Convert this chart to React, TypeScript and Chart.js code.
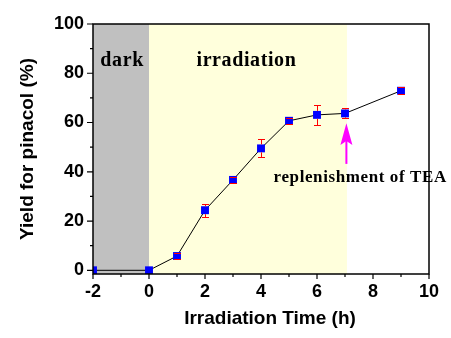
import React, { useEffect, useRef } from "react";
import { Chart, registerables } from "chart.js";

Chart.register(...registerables);

const TIMES = [-2, 0, 1, 2, 3, 4, 5, 6, 7, 9];
const YIELDS = [0, 0, 5.8, 24.4, 36.7, 49.5, 60.7, 63.1, 63.7, 72.9];
const ERRORS = [0, 0, 1.3, 2.6, 1.3, 3.7, 1.3, 4.0, 2.0, 1.4];

const X_MAJOR = [-2, 0, 2, 4, 6, 8, 10];
const X_MINOR = [-1, 1, 3, 5, 7, 9];
const Y_MAJOR = [0, 20, 40, 60, 80, 100];
const Y_MINOR = [10, 30, 50, 70, 90];

const DARK_RANGE = [-2, 0];
const LIGHT_RANGE = [0, 7.07];

const LABEL_DARK = { text: "dark", x: -0.96, y: 83 };
const LABEL_LIGHT = { text: "irradiation", x: 3.48, y: 83 };
const LABEL_TEA = { text: "replenishment of TEA", x: 4.45, y: 36 };
const ARROW = { x: 7.05, tip: 59.7, base: 50.9, notch: 52.5, end: 43.2 };

const X_TITLE = "Irradiation Time (h)";
const Y_TITLE = "Yield for pinacol (%)";

const decorPlugin = {
  id: "decor",
  beforeDatasetsDraw(chart: any) {
    const { ctx, chartArea: a, scales } = chart;
    const xs = scales.x;
    ctx.save();
    ctx.fillStyle = "#c0c0c0";
    const d0 = xs.getPixelForValue(DARK_RANGE[0]);
    const d1 = xs.getPixelForValue(DARK_RANGE[1]);
    ctx.fillRect(d0, a.top, d1 - d0, a.bottom - a.top);
    ctx.fillStyle = "#ffffdc";
    const l0 = xs.getPixelForValue(LIGHT_RANGE[0]);
    const l1 = xs.getPixelForValue(LIGHT_RANGE[1]);
    ctx.fillRect(l0, a.top, l1 - l0, a.bottom - a.top);
    ctx.restore();
  },
  afterDatasetsDraw(chart: any) {
    const { ctx, chartArea: a, scales } = chart;
    const xs = scales.x;
    const ys = scales.y;
    ctx.save();
    // error bars
    ctx.strokeStyle = "#ff0000";
    ctx.lineWidth = 1;
    const half = 4;
    TIMES.forEach((t, i) => {
      const e = ERRORS[i];
      if (!e) return;
      const px = Math.round(xs.getPixelForValue(t)) + 0.5;
      const pc = ys.getPixelForValue(YIELDS[i]);
      const pt = Math.round(ys.getPixelForValue(YIELDS[i] + e)) + 0.5;
      const pb = Math.round(ys.getPixelForValue(YIELDS[i] - e)) + 0.5;
      ctx.beginPath();
      if (pt < pc - half) {
        ctx.moveTo(px, pt);
        ctx.lineTo(px, pc - half);
      }
      if (pb > pc + half) {
        ctx.moveTo(px, pc + half);
        ctx.lineTo(px, pb);
      }
      ctx.moveTo(px - 3.5, pt);
      ctx.lineTo(px + 3.5, pt);
      ctx.moveTo(px - 3.5, pb);
      ctx.lineTo(px + 3.5, pb);
      ctx.stroke();
    });

    // texts
    ctx.fillStyle = "#000";
    ctx.textBaseline = "alphabetic";
    ctx.font = "bold 20px 'Liberation Serif'";
    (ctx as any).letterSpacing = "0.6px";
    ctx.textAlign = "center";
    ctx.fillText(LABEL_DARK.text, xs.getPixelForValue(LABEL_DARK.x), ys.getPixelForValue(LABEL_DARK.y));
    ctx.fillText(LABEL_LIGHT.text, xs.getPixelForValue(LABEL_LIGHT.x), ys.getPixelForValue(LABEL_LIGHT.y));
    ctx.font = "bold 17px 'Liberation Serif'";
    (ctx as any).letterSpacing = "0.6px";
    ctx.textAlign = "left";
    ctx.fillText(LABEL_TEA.text, xs.getPixelForValue(LABEL_TEA.x), ys.getPixelForValue(LABEL_TEA.y));
    (ctx as any).letterSpacing = "0px";

    // arrow
    const ax = xs.getPixelForValue(ARROW.x);
    ctx.fillStyle = "#ff00ff";
    ctx.strokeStyle = "#ff00ff";
    ctx.lineWidth = 2;
    ctx.beginPath();
    ctx.moveTo(ax, ys.getPixelForValue(ARROW.end));
    ctx.lineTo(ax, ys.getPixelForValue(ARROW.notch));
    ctx.stroke();
    ctx.beginPath();
    ctx.moveTo(ax, ys.getPixelForValue(ARROW.tip));
    ctx.lineTo(ax - 6, ys.getPixelForValue(ARROW.base));
    ctx.lineTo(ax, ys.getPixelForValue(ARROW.notch));
    ctx.lineTo(ax + 6, ys.getPixelForValue(ARROW.base));
    ctx.closePath();
    ctx.fill();

    // frame
    ctx.strokeStyle = "#000";
    ctx.lineWidth = 1.5;
    ctx.strokeRect(a.left, a.top, a.right - a.left, a.bottom - a.top);
    // ticks
    ctx.lineWidth = 1.2;
    ctx.beginPath();
    X_MAJOR.forEach((v) => {
      const p = xs.getPixelForValue(v);
      ctx.moveTo(p, a.bottom);
      ctx.lineTo(p, a.bottom + 5);
    });
    X_MINOR.forEach((v) => {
      const p = xs.getPixelForValue(v);
      ctx.moveTo(p, a.bottom);
      ctx.lineTo(p, a.bottom + 3);
    });
    Y_MAJOR.forEach((v) => {
      const p = ys.getPixelForValue(v);
      ctx.moveTo(a.left, p);
      ctx.lineTo(a.left - 6, p);
    });
    Y_MINOR.forEach((v) => {
      const p = ys.getPixelForValue(v);
      ctx.moveTo(a.left, p);
      ctx.lineTo(a.left - 3, p);
    });
    ctx.stroke();

    // axis titles
    ctx.fillStyle = "#000";
    ctx.font = "bold 19px 'Liberation Sans'";
    ctx.textAlign = "center";
    ctx.textBaseline = "alphabetic";
    ctx.fillText(X_TITLE, 270, 324);
    ctx.save();
    ctx.translate(32.5, 149);
    ctx.rotate(-Math.PI / 2);
    ctx.fillText(Y_TITLE, 0, 0);
    ctx.restore();
    ctx.restore();
  },
};

export default function App() {
  const ref = useRef<HTMLCanvasElement | null>(null);
  useEffect(() => {
    if (!ref.current) return;
    const chart = new Chart(ref.current, {
      type: "line",
      data: {
        datasets: [
          {
            data: TIMES.map((t, i) => ({ x: t, y: YIELDS[i] })),
            borderColor: "#000",
            borderWidth: 1,
            tension: 0,
            pointStyle: "rect",
            pointRadius: 5.6,
            pointBackgroundColor: "#0000ff",
            pointBorderWidth: 0,
            pointBorderColor: "#0000ff",
            clip: 0,
          } as any,
        ],
      },
      options: {
        responsive: false,
        animation: false,
        layout: { padding: { top: 24, right: 22, left: 0, bottom: 0 } },
        plugins: { legend: { display: false }, tooltip: { enabled: false } },
        scales: {
          x: {
            type: "linear",
            min: -2,
            max: 10,
            grid: { display: false, drawTicks: false },
            border: { display: false },
            afterBuildTicks: (s: any) => {
              s.ticks = X_MAJOR.map((v) => ({ value: v }));
            },
            afterFit: (s: any) => {
              s.height = 64;
            },
            ticks: {
              padding: 7,
              color: "#000",
              maxRotation: 0,
              font: { family: "'Liberation Sans'", size: 18, weight: "bold" },
              callback: (v: any) => String(v),
            },
          },
          y: {
            type: "linear",
            min: -1.5,
            max: 100,
            grid: { display: false, drawTicks: false },
            border: { display: false },
            afterBuildTicks: (s: any) => {
              s.ticks = Y_MAJOR.map((v) => ({ value: v }));
            },
            afterFit: (s: any) => {
              s.width = 93;
            },
            ticks: {
              padding: 9,
              color: "#000",
              font: { family: "'Liberation Sans'", size: 18, weight: "bold" },
              callback: (v: any) => String(v),
            },
          },
        },
      },
      plugins: [decorPlugin],
    });
    return () => chart.destroy();
  }, []);
  return (
    <div style={{ position: "absolute", left: 0, top: 0, width: 451, height: 338 }}>
      <canvas ref={ref} width={451} height={338} />
    </div>
  );
}
